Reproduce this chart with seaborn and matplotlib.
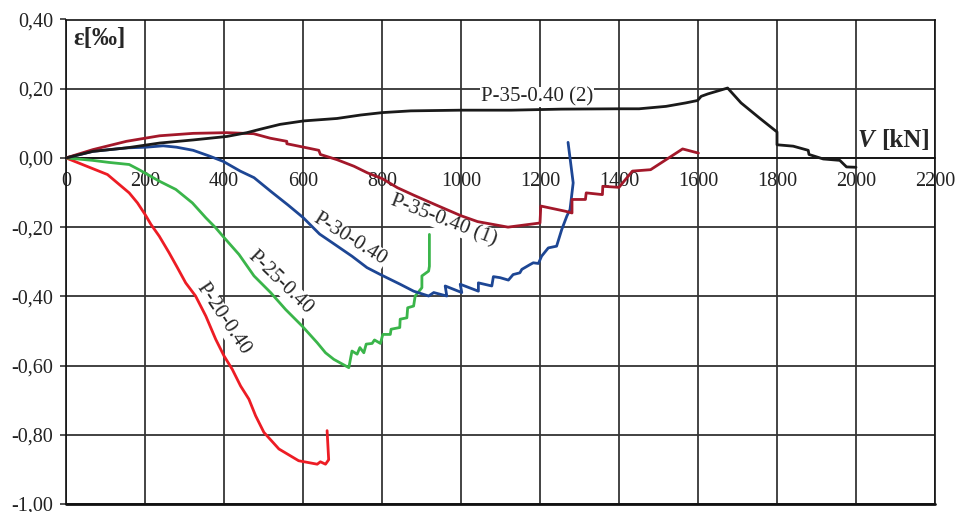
import numpy as np
import pandas as pd
import matplotlib
matplotlib.use('Agg')
import matplotlib.pyplot as plt
from matplotlib.ticker import FuncFormatter, MultipleLocator
import seaborn as sns

# Datos: V [kN] vs deformación ε [‰]
v_p20 = [0, 105, 160, 181, 200, 215, 236, 261, 282, 303, 328, 354, 379, 400, 421, 442,
         463, 480, 501, 539, 589, 636, 644, 657, 665, 661]
e_p20 = [0, -0.048, -0.101, -0.130, -0.163, -0.192, -0.226, -0.274, -0.317, -0.361, -0.399,
         -0.457, -0.524, -0.572, -0.611, -0.659, -0.697, -0.745, -0.793, -0.841, -0.875,
         -0.885, -0.878, -0.885, -0.872, -0.788]

v_p25 = [0, 67, 109, 160, 185, 236, 278, 320, 354, 379, 397, 438, 476, 518, 556, 598, 636,
         657, 678, 716, 724, 737, 744, 754, 760, 775, 781, 796, 802, 821, 823, 845, 846, 863,
         865, 880, 884, 901, 901, 918, 920, 920]
e_p25 = [0, -0.007, -0.013, -0.019, -0.034, -0.067, -0.091, -0.130, -0.173, -0.202, -0.226,
         -0.279, -0.341, -0.389, -0.438, -0.486, -0.534, -0.563, -0.582, -0.606, -0.558,
         -0.567, -0.548, -0.563, -0.538, -0.536, -0.526, -0.536, -0.510, -0.510, -0.495,
         -0.490, -0.466, -0.462, -0.433, -0.428, -0.399, -0.375, -0.341, -0.327, -0.313,
         -0.221]

v_p30 = [0, 68, 153, 203, 246, 280, 322, 364, 398, 441, 476, 520, 562, 600, 642, 678, 724,
         762, 796, 846, 880, 918, 931, 964, 960, 1002, 998, 1044, 1044, 1078, 1082, 1099,
         1120, 1132, 1149, 1154, 1175, 1183, 1196, 1204, 1221, 1242, 1255, 1268, 1276,
         1284, 1271]
e_p30 = [0, 0.019, 0.029, 0.031, 0.035, 0.031, 0.022, 0.005, -0.010, -0.038, -0.057, -0.098,
         -0.136, -0.172, -0.220, -0.248, -0.284, -0.317, -0.337, -0.365, -0.385, -0.399,
         -0.389, -0.399, -0.370, -0.389, -0.365, -0.385, -0.361, -0.370, -0.343, -0.346,
         -0.353, -0.337, -0.332, -0.322, -0.308, -0.303, -0.305, -0.284, -0.260, -0.255,
         -0.207, -0.168, -0.149, -0.072, 0.045]

v_p35_1 = [0, 68, 153, 237, 322, 407, 475, 517, 559, 559, 602, 640, 644, 686, 729, 763, 801,
           839, 881, 941, 1000, 1042, 1119, 1200, 1202, 1264, 1281, 1281, 1315, 1317, 1358,
           1359, 1400, 1434, 1480, 1561, 1601]
e_p35_1 = [0, 0.024, 0.048, 0.064, 0.071, 0.073, 0.070, 0.057, 0.048, 0.041, 0.031, 0.022,
           0.010, -0.005, -0.024, -0.043, -0.060, -0.086, -0.108, -0.138, -0.167, -0.184,
           -0.200, -0.188, -0.139, -0.154, -0.159, -0.120, -0.120, -0.101, -0.106, -0.082,
           -0.085, -0.038, -0.034, 0.026, 0.014]

v_p35_2 = [0, 68, 153, 237, 322, 407, 458, 492, 542, 602, 686, 746, 801, 873, 1000, 1127,
           1254, 1400, 1451, 1519, 1569, 1599, 1608, 1625, 1675, 1709, 1756, 1800, 1800,
           1841, 1879, 1881, 1917, 1959, 1976, 2000]
e_p35_2 = [0, 0.019, 0.029, 0.043, 0.052, 0.062, 0.073, 0.083, 0.097, 0.107, 0.114, 0.124,
           0.131, 0.136, 0.138, 0.138, 0.141, 0.142, 0.142, 0.149, 0.159, 0.166, 0.178,
           0.185, 0.202, 0.159, 0.115, 0.075, 0.038, 0.034, 0.022, 0.010, -0.003, -0.007,
           -0.026, -0.027]

series = ['P-20-0.40', 'P-25-0.40', 'P-30-0.40', 'P-35-0.40 (1)', 'P-35-0.40 (2)']
colores = ['#ED1C24', '#3AB54A', '#1D4694', '#A3182A', '#1A1A1A']
datos = [(v_p20, e_p20), (v_p25, e_p25), (v_p30, e_p30), (v_p35_1, e_p35_1), (v_p35_2, e_p35_2)]

sns.set_style('white')
plt.rcParams['font.family'] = ['Liberation Serif', 'DejaVu Serif']

fig = plt.figure(figsize=(9.61, 5.12), dpi=100)
ax = fig.add_axes([66 / 961, 8 / 512, 869 / 961, 484.5 / 512])

for nombre, color, (v, e) in zip(series, colores, datos):
    df = pd.DataFrame({'V': v, 'eps': e})
    sns.lineplot(data=df, x='V', y='eps', sort=False, estimator=None, color=color,
                 lw=2.0, ax=ax, zorder=4)

ax.set_xlim(0, 2200)
ax.set_ylim(-1.0, 0.4)
ax.xaxis.set_major_locator(MultipleLocator(200))
ax.yaxis.set_major_locator(MultipleLocator(0.2))
ax.yaxis.set_major_formatter(FuncFormatter(lambda v, p: f'{v:.2f}'.replace('.', ',')))
ax.xaxis.set_major_formatter(FuncFormatter(lambda v, p: f'{v:.0f}'))

ax.set_axisbelow(True)
ax.grid(axis='x', color='#111111', lw=1.1)
ax.grid(axis='y', color='#333333', lw=1.3)

ax.spines['bottom'].set_position(('data', 0))
for s in ['left', 'top', 'right', 'bottom']:
    ax.spines[s].set_color('#111111')
    ax.spines[s].set_linewidth(1.2)
ax.axhline(-1.0, color='#111111', lw=2.0, clip_on=False, zorder=1)

ax.tick_params(axis='x', length=0, pad=10, labelsize=14.5, colors='#222222')
ax.tick_params(axis='y', length=4, width=1.1, pad=5, labelsize=14.5, direction='out',
               left=True, colors='#222222')
ax.set_xlabel('')
ax.set_ylabel('')

# Etiquetas de las curvas
caja = dict(facecolor='white', edgecolor='none', pad=0.5)
ax.text(1192, 0.176, series[4], fontsize=15, ha='center', va='center', bbox=caja, zorder=3)
ax.text(955, -0.180, series[3], fontsize=15, ha='center', va='center', rotation=-21,
        rotation_mode='anchor', bbox=caja, zorder=3)
ax.text(719, -0.236, series[2], fontsize=15, ha='center', va='center', rotation=-32,
        rotation_mode='anchor', bbox=caja, zorder=3)
ax.text(542, -0.360, series[1], fontsize=15, ha='center', va='center', rotation=-44,
        rotation_mode='anchor', bbox=caja, zorder=3)
ax.text(397, -0.466, series[0], fontsize=15, ha='center', va='center', rotation=-56,
        rotation_mode='anchor', bbox=caja, zorder=3)

# Títulos de los ejes dentro del gráfico
ax.text(0.008, 0.985, 'ε[‰]', transform=ax.transAxes, fontsize=18, fontweight='bold',
        ha='left', va='top')
ax.text(0.9945, 0.751, '[kN]', transform=ax.transAxes, fontsize=18, fontweight='bold',
        ha='right', va='center')
ax.text(0.9305, 0.751, 'V', transform=ax.transAxes, fontsize=18, fontweight='bold',
        style='italic', ha='right', va='center')

fig.savefig('out.png', dpi=100)
